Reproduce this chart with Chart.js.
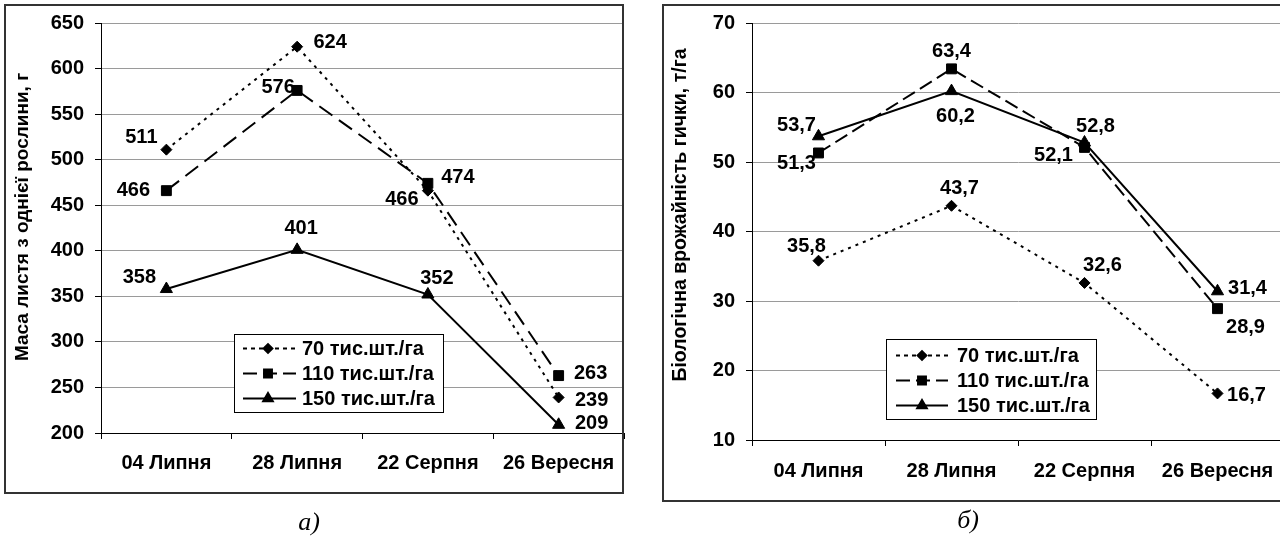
<!DOCTYPE html>
<html><head><meta charset="utf-8">
<script src="https://cdn.jsdelivr.net/npm/chart.js@4.4.0/dist/chart.umd.min.js"></script>
<style>
html,body{margin:0;padding:0;width:1280px;height:544px;overflow:hidden;background:#fff;}
#wrapA{position:absolute;left:0;top:0;width:640px;height:544px;}
#wrapB{position:absolute;left:640px;top:0;width:660px;height:544px;}
.frame{position:absolute;border:2px solid #333;pointer-events:none;box-sizing:border-box;}
.cap{position:absolute;width:60px;text-align:center;font-family:"Liberation Serif","DejaVu Serif",serif;font-style:italic;font-size:26px;line-height:30px;}
</style></head><body>
<div id="wrapA"><canvas id="cA" width="640" height="544"></canvas></div>
<div id="wrapB"><canvas id="cB" width="660" height="544"></canvas></div>
<div class="frame" style="left:4px;top:4px;width:620px;height:490px"></div>
<div class="frame" style="left:662px;top:4px;width:640px;height:498px"></div>
<div class="cap" style="left:279px;top:507px">а)</div>
<div class="cap" style="left:938px;top:505px">б)</div>
<script>
// ---- data ----
const categories = ['04 Липня', '28 Липня', '22 Серпня', '26 Вересня'];
const seriesNames = ['70 тис.шт./га', '110 тис.шт./га', '150 тис.шт./га'];
const massTitle = 'Маса листя з однієї рослини, г';
const yieldTitle = 'Біологічна врожайність гички, т/га';
const massLeaf70 = [511, 624, 466, 239];
const massLeaf110 = [466, 576, 474, 263];
const massLeaf150 = [358, 401, 352, 209];
const yield70 = [35.8, 43.7, 32.6, 16.7];
const yield110 = [51.3, 63.4, 52.1, 28.9];
const yield150 = [53.7, 60.2, 52.8, 31.4];
const massTicks = [200, 250, 300, 350, 400, 450, 500, 550, 600, 650];
const yieldTicks = [10, 20, 30, 40, 50, 60, 70];

// label placement (offset of label centre from its point)
const massLabelOffsets = [
  [[-25, -12], [33, -4], [-26, 9], [33, 3]],
  [[-33, 0], [-19, -3], [30, -6], [32, -2]],
  [[-27, -12], [4, -21], [9, -16], [33, -1]]
];
const yieldLabelOffsets = [
  [[-12, -14], [8, -17], [18, -17], [29, 2]],
  [[-22, 11], [0, -17], [-31, 8], [28, 19]],
  [[-22, -11], [4, 25], [11, -16], [30, -3]]
];

const FONT = '"Liberation Sans", Arial, sans-serif';
const FS = 20;

const pointLabels = {
  id: 'pointLabels',
  afterDatasetsDraw(chart, args, o) {
    const ctx = chart.ctx;
    ctx.save();
    ctx.font = 'bold ' + FS + 'px ' + FONT;
    ctx.fillStyle = '#000';
    ctx.textAlign = 'center';
    ctx.textBaseline = 'middle';
    chart.data.datasets.forEach((ds, i) => {
      chart.getDatasetMeta(i).data.forEach((pt, j) => {
        const off = o.offsets[i][j];
        ctx.fillText(o.format(ds.data[j]), pt.x + off[0], pt.y + off[1]);
      });
    });
    ctx.restore();
  }
};

const boxLegend = {
  id: 'boxLegend',
  afterDatasetsDraw(chart, args, o) {
    const ctx = chart.ctx;
    ctx.save();
    ctx.fillStyle = '#fff';
    ctx.fillRect(o.x, o.y, o.w, o.h);
    ctx.strokeStyle = '#000';
    ctx.lineWidth = 1;
    ctx.strokeRect(o.x + 0.5, o.y + 0.5, o.w, o.h);
    ctx.font = 'bold ' + FS + 'px ' + FONT;
    ctx.textAlign = 'left';
    ctx.textBaseline = 'middle';
    chart.data.datasets.forEach((ds, i) => {
      const y = Math.round(o.y + o.rowTop + i * o.rowH) + 0.5;
      ctx.strokeStyle = '#000';
      ctx.lineWidth = ds.borderWidth;
      ctx.setLineDash(ds.legendDash || ds.borderDash || []);
      ctx.beginPath();
      ctx.moveTo(o.x + o.lineX0, y);
      ctx.lineTo(o.x + o.lineX1, y);
      ctx.stroke();
      ctx.setLineDash([]);
      ctx.fillStyle = '#000';
      Chart.helpers.drawPoint(ctx, {pointStyle: ds.pointStyle, radius: ds.pointRadius * 0.8, borderWidth: 1, rotation: 0}, o.x + o.markX, y);
      ctx.fillStyle = '#000';
      ctx.fillText(ds.label, o.x + o.textX, y + 1);
    });
    ctx.restore();
  }
};

const yTitle = {
  id: 'yTitle',
  afterDraw(chart, args, o) {
    const ctx = chart.ctx;
    ctx.save();
    ctx.translate(o.x, o.y);
    ctx.rotate(-Math.PI / 2);
    ctx.font = 'bold ' + o.size + 'px ' + FONT;
    ctx.fillStyle = '#000';
    ctx.textAlign = 'center';
    ctx.textBaseline = 'middle';
    ctx.fillText(o.text, 0, 0);
    ctx.restore();
  }
};

function mkDatasets(d70, d110, d150, dash110) {
  return [
    {label: seriesNames[0], data: d70, borderColor: '#000', backgroundColor: '#000', borderWidth: 2,
     borderDash: [3, 5], legendDash: [4, 4], pointStyle: 'rectRot', pointRadius: 5.5, pointBorderWidth: 1,
     pointBackgroundColor: '#000', pointBorderColor: '#000', tension: 0},
    {label: seriesNames[1], data: d110, borderColor: '#000', backgroundColor: '#000', borderWidth: 2,
     borderDash: dash110, legendDash: [14, 6], pointStyle: 'rect', pointRadius: 7, pointBorderWidth: 1,
     pointBackgroundColor: '#000', pointBorderColor: '#000', tension: 0},
    {label: seriesNames[2], data: d150, borderColor: '#000', backgroundColor: '#000', borderWidth: 2,
     borderDash: [], pointStyle: 'triangle', pointRadius: 7, pointBorderWidth: 1,
     pointBackgroundColor: '#000', pointBorderColor: '#000', tension: 0}
  ];
}

function mkOptions(ticksArr, yWidth, xHeight, padRight, xPad, labelOpts, legendOpts, titleOpts) {
  return {
    responsive: false,
    animation: false,
    devicePixelRatio: 1,
    layout: {padding: {left: 0, top: 23, right: padRight, bottom: 0}},
    plugins: {
      legend: {display: false},
      tooltip: {enabled: false},
      pointLabels: labelOpts,
      boxLegend: legendOpts,
      yTitle: titleOpts
    },
    scales: {
      x: {
        type: 'category',
        offset: true,
        grid: {display: true, drawOnChartArea: false, drawTicks: true, tickLength: 6, tickColor: '#000', offset: true},
        border: {color: '#000', width: 1},
        ticks: {color: '#000', font: {family: FONT, size: FS, weight: 'bold'}, padding: xPad, maxRotation: 0, autoSkip: false},
        afterFit(s) { s.height = xHeight; }
      },
      y: {
        min: ticksArr[0],
        max: ticksArr[ticksArr.length - 1],
        ticks: {stepSize: ticksArr[1] - ticksArr[0], color: '#000', font: {family: FONT, size: FS, weight: 'bold'}, padding: 11},
        grid: {color: '#9a9a9a', tickColor: '#000', tickLength: 6, lineWidth: 1},
        border: {color: '#000', width: 1},
        title: {display: false},
        afterFit(s) { s.width = yWidth; }
      }
    }
  };
}

new Chart(document.getElementById('cA'), {
  type: 'line',
  data: {labels: categories, datasets: mkDatasets(massLeaf70, massLeaf110, massLeaf150, [16, 8])},
  options: mkOptions(massTicks, 101, 111, 16, 12,
    {offsets: massLabelOffsets, format: v => String(v)},
    {x: 234, y: 334, w: 209, h: 78, rowTop: 14, rowH: 25, lineX0: 9, lineX1: 62, markX: 34, textX: 68},
    {x: 22.5, y: 217, text: massTitle, size: 19}),
  plugins: [pointLabels, boxLegend, yTitle]
});

new Chart(document.getElementById('cB'), {
  type: 'line',
  data: {labels: categories, datasets: mkDatasets(yield70, yield110, yield150, [14, 6])},
  options: mkOptions(yieldTicks, 112, 104, 16, 13,
    {offsets: yieldLabelOffsets, format: v => v.toFixed(1).replace('.', ',')},
    {x: 246, y: 339, w: 210, h: 80, rowTop: 16, rowH: 25, lineX0: 10, lineX1: 62, markX: 36, textX: 71},
    {x: 41, y: 215, text: yieldTitle, size: 19.5}),
  plugins: [pointLabels, boxLegend, yTitle]
});
</script>
</body></html>
